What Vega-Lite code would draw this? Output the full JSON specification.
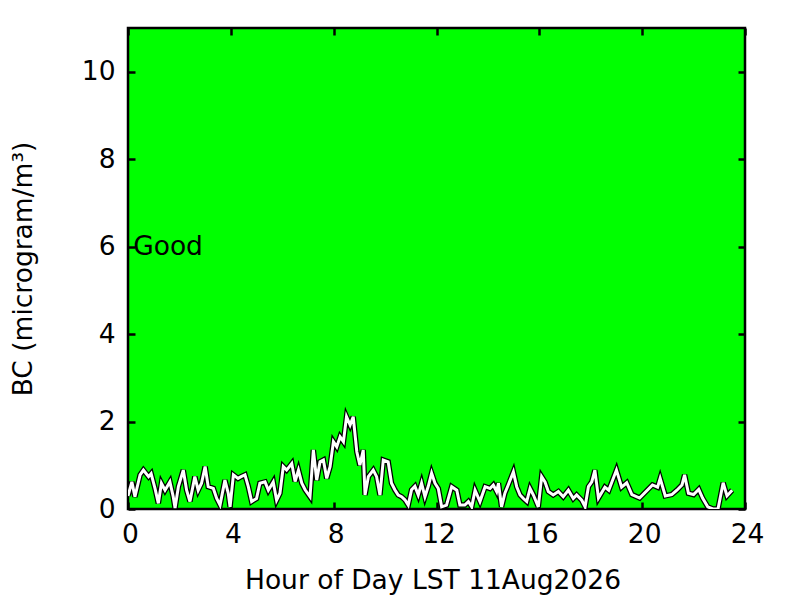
{
  "$schema": "https://vega.github.io/schema/vega-lite/v6.json",
  "width": 617,
  "height": 481,
  "autosize": "none",
  "padding": {"left": 128, "top": 28, "right": 55, "bottom": 91},
  "background": "white",
  "config": {
    "view": {"fill": "#00ff00", "stroke": "black", "strokeWidth": 2.5},
    "font": "DejaVu Sans",
    "axis": {
      "grid": false,
      "domain": false,
      "ticks": true,
      "tickColor": "black",
      "tickWidth": 2.5,
      "tickSize": -7,
      "labelFlush": false,
      "labelOverlap": false,
      "labelFont": "DejaVu Sans",
      "labelFontSize": 26.5,
      "labelColor": "black",
      "titleFont": "DejaVu Sans",
      "titleFontSize": 26.5,
      "titleFontWeight": "normal",
      "titleColor": "black"
    }
  },
  "datasets": {
    "bc": [
      {"hour": 0.0, "bc": 0.3}, {"hour": 0.15, "bc": 0.62}, {"hour": 0.27, "bc": 0.28}, {"hour": 0.47, "bc": 0.78},
      {"hour": 0.6, "bc": 0.89}, {"hour": 0.8, "bc": 0.74}, {"hour": 0.9, "bc": 0.81}, {"hour": 1.05, "bc": 0.47},
      {"hour": 1.18, "bc": 0.13}, {"hour": 1.3, "bc": 0.59}, {"hour": 1.44, "bc": 0.43}, {"hour": 1.63, "bc": 0.62},
      {"hour": 1.76, "bc": 0.28}, {"hour": 1.83, "bc": 0.02}, {"hour": 1.96, "bc": 0.51}, {"hour": 2.15, "bc": 0.89},
      {"hour": 2.28, "bc": 0.43}, {"hour": 2.41, "bc": 0.17}, {"hour": 2.6, "bc": 0.74}, {"hour": 2.73, "bc": 0.43},
      {"hour": 2.86, "bc": 0.59}, {"hour": 3.0, "bc": 0.97}, {"hour": 3.12, "bc": 0.51}, {"hour": 3.32, "bc": 0.47},
      {"hour": 3.45, "bc": 0.24}, {"hour": 3.58, "bc": 0.09}, {"hour": 3.77, "bc": 0.66}, {"hour": 3.9, "bc": 0.36},
      {"hour": 3.97, "bc": 0.05}, {"hour": 4.1, "bc": 0.78}, {"hour": 4.28, "bc": 0.7}, {"hour": 4.4, "bc": 0.74},
      {"hour": 4.55, "bc": 0.78}, {"hour": 4.68, "bc": 0.51}, {"hour": 4.81, "bc": 0.17}, {"hour": 5.0, "bc": 0.24},
      {"hour": 5.13, "bc": 0.59}, {"hour": 5.33, "bc": 0.62}, {"hour": 5.46, "bc": 0.43}, {"hour": 5.65, "bc": 0.62},
      {"hour": 5.78, "bc": 0.2}, {"hour": 5.91, "bc": 0.36}, {"hour": 6.04, "bc": 0.97}, {"hour": 6.17, "bc": 0.89},
      {"hour": 6.37, "bc": 1.04}, {"hour": 6.5, "bc": 0.63}, {"hour": 6.63, "bc": 0.89}, {"hour": 6.76, "bc": 0.59},
      {"hour": 6.89, "bc": 0.44}, {"hour": 7.08, "bc": 0.28}, {"hour": 7.21, "bc": 1.35}, {"hour": 7.34, "bc": 0.66},
      {"hour": 7.47, "bc": 1.08}, {"hour": 7.6, "bc": 1.12}, {"hour": 7.73, "bc": 0.7}, {"hour": 7.86, "bc": 0.97},
      {"hour": 7.99, "bc": 1.54}, {"hour": 8.12, "bc": 1.42}, {"hour": 8.25, "bc": 1.65}, {"hour": 8.38, "bc": 1.54},
      {"hour": 8.5, "bc": 2.11}, {"hour": 8.64, "bc": 1.92}, {"hour": 8.76, "bc": 2.11}, {"hour": 8.9, "bc": 1.31},
      {"hour": 9.02, "bc": 1.0}, {"hour": 9.15, "bc": 1.35}, {"hour": 9.22, "bc": 0.32}, {"hour": 9.35, "bc": 0.74},
      {"hour": 9.54, "bc": 0.89}, {"hour": 9.67, "bc": 0.74}, {"hour": 9.8, "bc": 0.32}, {"hour": 9.93, "bc": 1.12},
      {"hour": 10.12, "bc": 1.08}, {"hour": 10.25, "bc": 0.59}, {"hour": 10.38, "bc": 0.44}, {"hour": 10.51, "bc": 0.32},
      {"hour": 10.64, "bc": 0.28}, {"hour": 10.77, "bc": 0.21}, {"hour": 10.9, "bc": 0.09}, {"hour": 11.03, "bc": 0.44},
      {"hour": 11.16, "bc": 0.52}, {"hour": 11.29, "bc": 0.32}, {"hour": 11.42, "bc": 0.59}, {"hour": 11.55, "bc": 0.28},
      {"hour": 11.68, "bc": 0.52}, {"hour": 11.81, "bc": 0.82}, {"hour": 11.94, "bc": 0.59}, {"hour": 12.07, "bc": 0.47},
      {"hour": 12.2, "bc": 0.05}, {"hour": 12.39, "bc": 0.09}, {"hour": 12.59, "bc": 0.51}, {"hour": 12.79, "bc": 0.43},
      {"hour": 12.91, "bc": 0.09}, {"hour": 13.1, "bc": 0.09}, {"hour": 13.24, "bc": 0.17}, {"hour": 13.37, "bc": 0.05},
      {"hour": 13.5, "bc": 0.43}, {"hour": 13.69, "bc": 0.17}, {"hour": 13.89, "bc": 0.51}, {"hour": 14.08, "bc": 0.47},
      {"hour": 14.21, "bc": 0.55}, {"hour": 14.34, "bc": 0.4}, {"hour": 14.41, "bc": 0.59}, {"hour": 14.53, "bc": 0.05},
      {"hour": 14.66, "bc": 0.36}, {"hour": 14.79, "bc": 0.55}, {"hour": 14.99, "bc": 0.85}, {"hour": 15.12, "bc": 0.51},
      {"hour": 15.25, "bc": 0.32}, {"hour": 15.38, "bc": 0.24}, {"hour": 15.51, "bc": 0.17}, {"hour": 15.64, "bc": 0.47},
      {"hour": 15.77, "bc": 0.32}, {"hour": 15.96, "bc": 0.05}, {"hour": 16.09, "bc": 0.74}, {"hour": 16.22, "bc": 0.62},
      {"hour": 16.35, "bc": 0.4}, {"hour": 16.54, "bc": 0.32}, {"hour": 16.74, "bc": 0.4}, {"hour": 16.93, "bc": 0.28},
      {"hour": 17.13, "bc": 0.43}, {"hour": 17.32, "bc": 0.24}, {"hour": 17.45, "bc": 0.32}, {"hour": 17.65, "bc": 0.2},
      {"hour": 17.78, "bc": 0.05}, {"hour": 17.91, "bc": 0.51}, {"hour": 18.04, "bc": 0.62}, {"hour": 18.16, "bc": 0.89},
      {"hour": 18.3, "bc": 0.25}, {"hour": 18.55, "bc": 0.5}, {"hour": 18.7, "bc": 0.43}, {"hour": 19.0, "bc": 0.89},
      {"hour": 19.2, "bc": 0.5}, {"hour": 19.4, "bc": 0.6}, {"hour": 19.6, "bc": 0.33}, {"hour": 19.9, "bc": 0.25},
      {"hour": 20.2, "bc": 0.43}, {"hour": 20.4, "bc": 0.55}, {"hour": 20.6, "bc": 0.5}, {"hour": 20.7, "bc": 0.7},
      {"hour": 20.9, "bc": 0.3}, {"hour": 21.15, "bc": 0.33}, {"hour": 21.35, "bc": 0.43}, {"hour": 21.55, "bc": 0.55},
      {"hour": 21.65, "bc": 0.78}, {"hour": 21.8, "bc": 0.36}, {"hour": 22.0, "bc": 0.33}, {"hour": 22.2, "bc": 0.45},
      {"hour": 22.35, "bc": 0.25}, {"hour": 22.55, "bc": 0.05}, {"hour": 22.75, "bc": 0.0}, {"hour": 22.95, "bc": 0.0},
      {"hour": 23.15, "bc": 0.6}, {"hour": 23.3, "bc": 0.3}, {"hour": 23.5, "bc": 0.43}
    ],
    "labels": [{"hour": 0.2, "bc": 6, "label": "Good"}]
  },
  "resolve": {"axis": {"x": "independent", "y": "independent"}},
  "layer": [
    {
      "data": {"name": "bc"},
      "mark": {"type": "line", "color": "black", "strokeWidth": 5.5, "clip": true},
      "encoding": {
        "x": {"field": "hour", "type": "quantitative", "scale": {"domain": [0, 24], "nice": false},
          "axis": {"orient": "bottom", "values": [0, 4, 8, 12, 16, 20, 24], "title": "Hour of Day LST 11Aug2026", "labelPadding": 19, "labelOffset": 2, "titlePadding": 20, "titleX": 304.5}},
        "y": {"field": "bc", "type": "quantitative", "scale": {"domain": [0, 11], "nice": false},
          "axis": {"orient": "left", "values": [0, 2, 4, 6, 8, 10], "title": "BC (microgram/m³)", "labelPadding": 20, "titlePadding": 44}}
      }
    },
    {
      "data": {"name": "bc"},
      "mark": {"type": "line", "color": "white", "strokeWidth": 3, "clip": true},
      "encoding": {
        "x": {"field": "hour", "type": "quantitative", "scale": {"domain": [0, 24], "nice": false},
          "axis": {"orient": "top", "values": [0, 4, 8, 12, 16, 20, 24], "labels": false, "title": null}},
        "y": {"field": "bc", "type": "quantitative", "scale": {"domain": [0, 11], "nice": false},
          "axis": {"orient": "right", "values": [0, 2, 4, 6, 8, 10], "labels": false, "title": null}}
      }
    },
    {
      "data": {"name": "labels"},
      "mark": {"type": "text", "align": "left", "baseline": "middle", "fontSize": 26.5, "font": "DejaVu Sans", "color": "black"},
      "encoding": {
        "x": {"field": "hour", "type": "quantitative", "axis": null},
        "y": {"field": "bc", "type": "quantitative", "axis": null},
        "text": {"field": "label"}
      }
    }
  ]
}
